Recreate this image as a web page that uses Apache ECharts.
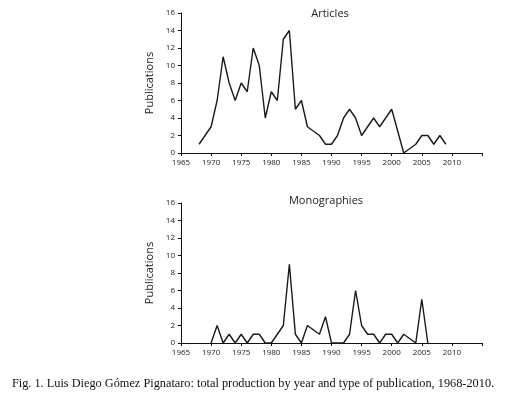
<!DOCTYPE html>
<html>
<head>
<meta charset="utf-8">
<script src="https://cdn.jsdelivr.net/npm/echarts@6/dist/echarts.min.js"></script>
<style>
  html, body { margin: 0; padding: 0; background: #fff; }
  #chart { width: 506px; height: 396px; }
</style>
</head>
<body>
<div id="chart"></div>
<script>
// articles per year (years where the line is a straight run are left out)
var articleYears  = [1968,1969,1970,1971,1972,1973,1974,1975,1976,1977,1978,1979,1980,1981,1982,1983,1984,1985,1986,1988,1989,1990,1991,1992,1993,1994,1995,1996,1997,1998,1999,2000,2002,2004,2005,2006,2007,2008,2009];
var articleValues = [1,2,3,6,11,8,6,8,7,12,10,4,7,6,13,14,5,6,3,2,1,1,2,4,5,4,2,3,4,3,4,5,0,1,2,2,1,2,1];
// monographies per year
var monoYears  = [1970,1971,1972,1973,1974,1975,1976,1977,1978,1979,1980,1982,1983,1984,1985,1986,1988,1989,1990,1992,1993,1994,1995,1996,1997,1998,1999,2000,2001,2002,2004,2005,2006];
var monoValues = [0,2,0,1,0,1,0,1,1,0,0,2,9,1,0,2,1,3,0,0,1,6,2,1,1,0,1,1,0,1,0,5,0];

var yTicks = [0,2,4,6,8,10,12,14,16];
var xLabels = [1965,1970,1975,1980,1985,1990,1995,2000,2005,2010];

function pairs(xs, ys){
	var out = [];
	for(var i=0;i<xs.length;i++){
		out.push([xs[i], ys[i]]);
	}
	return out;
}

var sans = "'Open Sans', 'DejaVu Sans', sans-serif";

function xAxisFor(idx){
	return {
		type: 'value', gridIndex: idx,
		min: 1965, max: 2015, interval: 5,
		axisLine: {show: true, onZero: false, lineStyle: {color: '#111', width: 1}},
		axisTick: {show: true, length: 3, lineStyle: {color: '#111'}},
		splitLine: {show: false},
		axisLabel: {
			color: '#1a1a1a', fontSize: 8, fontFamily: sans, margin: 6,
			formatter: function(v){ return xLabels.indexOf(v) >= 0 ? String(v) : ''; }
		}
	};
}
function yAxisFor(idx){
	return {
		type: 'value', gridIndex: idx,
		min: 0, max: 16, interval: 2,
		name: 'Publications', nameLocation: 'middle', nameGap: 22, nameRotate: 90,
		nameTextStyle: {color: '#1a1a1a', fontSize: 11, fontFamily: sans},
		axisLine: {show: true, lineStyle: {color: '#111', width: 1}},
		axisTick: {show: true, length: 3, lineStyle: {color: '#111'}},
		splitLine: {show: false},
		axisLabel: {
			color: '#1a1a1a', fontSize: 8, fontFamily: sans, margin: 6,
			formatter: function(v){ return yTicks.indexOf(v) >= 0 ? String(v) : ''; }
		}
	};
}

var chart = echarts.init(document.getElementById('chart'), null, {renderer: 'canvas'});
var option = {
	animation: false,
	backgroundColor: '#fff',
	title: [
		{text: 'Articles', left: 325, top: 3, textAlign: 'center',
			textStyle: {fontSize: 11, fontWeight: 'normal', color: '#1a1a1a', fontFamily: sans}},
		{text: 'Monographies', left: 321, top: 190, textAlign: 'center',
			textStyle: {fontSize: 11, fontWeight: 'normal', color: '#1a1a1a', fontFamily: sans}}
	],
	grid: [
		{left: 181, top: 13, width: 301, height: 140},
		{left: 181, top: 203, width: 301, height: 140}
	],
	xAxis: [xAxisFor(0), xAxisFor(1)],
	yAxis: [yAxisFor(0), yAxisFor(1)],
	series: [
		{type: 'line', xAxisIndex: 0, yAxisIndex: 0, data: pairs(articleYears, articleValues),
			symbol: 'none', lineStyle: {color: '#1a1a1a', width: 1.4}},
		{type: 'line', xAxisIndex: 1, yAxisIndex: 1, data: pairs(monoYears, monoValues),
			symbol: 'none', lineStyle: {color: '#1a1a1a', width: 1.4}}
	],
	graphic: [
		{type: 'text', left: 'center', top: 378,
			style: {text: 'Fig. 1. Luis Diego Gómez Pignataro: total production by year and type of publication, 1968-2010.',
				fontSize: 12.3, fontFamily: "'Liberation Serif', 'DejaVu Serif', serif", fill: '#111'}}
	]
};
chart.setOption(option);
</script>
</body>
</html>
